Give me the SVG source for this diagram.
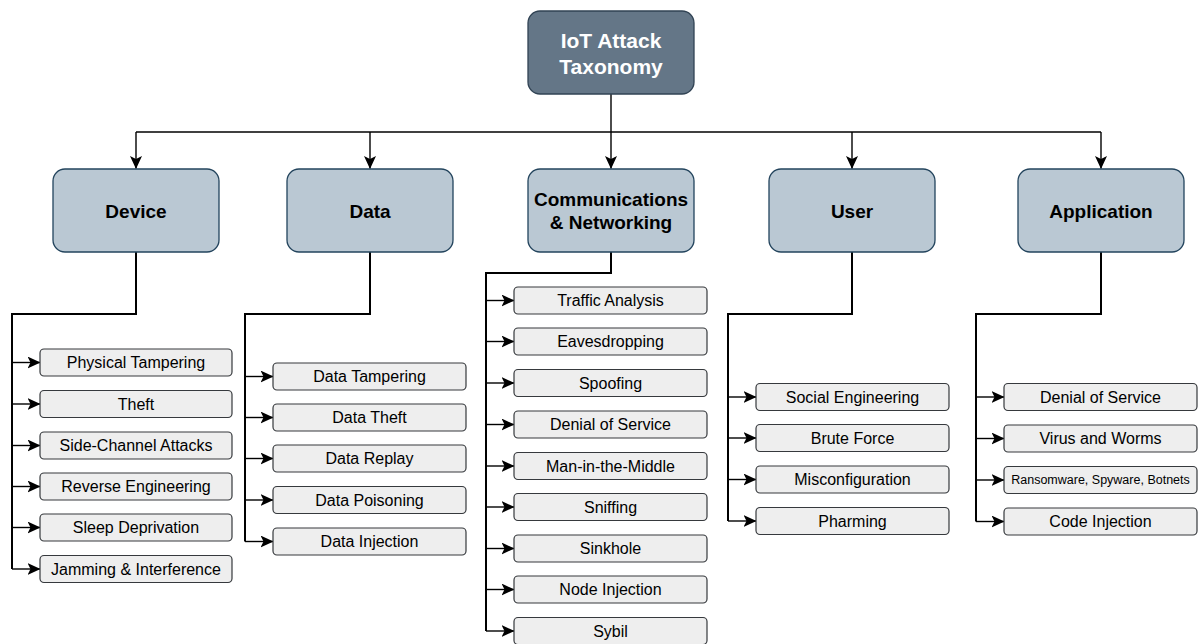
<svg xmlns="http://www.w3.org/2000/svg" width="1199" height="644" viewBox="0 0 1199 644">
<defs>
<marker id="arr" markerUnits="userSpaceOnUse" viewBox="0 0 13 12" refX="12.5" refY="6" markerWidth="13" markerHeight="12" orient="auto">
<path d="M0,0 L13,6 L0,12 L3,6 z" fill="#000"/>
</marker>
<style>
text{font-family:"Liberation Sans",Arial,Helvetica,sans-serif;text-anchor:middle;dominant-baseline:central}
.root rect{fill:#647687;stroke:#314354;stroke-width:1.3}
.root text{fill:#fff;font-weight:bold;font-size:21px}
.cat rect{fill:#bac8d3;stroke:#23445d;stroke-width:1.3}
.cat text{fill:#000;font-weight:bold;font-size:19px}
.leaf rect{fill:#eeeeee;stroke:#36393d;stroke-width:1.2}
.leaf text{fill:#000;font-size:16px}
.top{fill:none;stroke:#000;stroke-width:1.4}
.trunk{fill:none;stroke:#000;stroke-width:2}
.br{fill:none;stroke:#000;stroke-width:1.4}
</style>
</defs>
<rect width="1199" height="644" fill="#fff"/>
<g id="connectors">
<path class="top" d="M611,94 V168.5" marker-end="url(#arr)"/>
<path class="top" d="M136,132 H1101"/>
<path class="top" d="M136,132 V168.5" marker-end="url(#arr)"/>
<path class="top" d="M370,132 V168.5" marker-end="url(#arr)"/>
<path class="top" d="M852,132 V168.5" marker-end="url(#arr)"/>
<path class="top" d="M1101,132 V168.5" marker-end="url(#arr)"/>
<path class="trunk" d="M136,252 V314 H12 V569"/>
<path class="br" d="M12,362.5 H40" marker-end="url(#arr)"/>
<path class="br" d="M12,404 H40" marker-end="url(#arr)"/>
<path class="br" d="M12,445.5 H40" marker-end="url(#arr)"/>
<path class="br" d="M12,486.5 H40" marker-end="url(#arr)"/>
<path class="br" d="M12,527.5 H40" marker-end="url(#arr)"/>
<path class="br" d="M12,569 H40" marker-end="url(#arr)"/>
<path class="trunk" d="M370,252 V314 H245 V541.5"/>
<path class="br" d="M245,376.5 H273" marker-end="url(#arr)"/>
<path class="br" d="M245,417.5 H273" marker-end="url(#arr)"/>
<path class="br" d="M245,458.5 H273" marker-end="url(#arr)"/>
<path class="br" d="M245,500 H273" marker-end="url(#arr)"/>
<path class="br" d="M245,541.5 H273" marker-end="url(#arr)"/>
<path class="trunk" d="M611,252 V273 H486 V631"/>
<path class="br" d="M486,300.5 H514" marker-end="url(#arr)"/>
<path class="br" d="M486,341.5 H514" marker-end="url(#arr)"/>
<path class="br" d="M486,383 H514" marker-end="url(#arr)"/>
<path class="br" d="M486,424.5 H514" marker-end="url(#arr)"/>
<path class="br" d="M486,466 H514" marker-end="url(#arr)"/>
<path class="br" d="M486,507 H514" marker-end="url(#arr)"/>
<path class="br" d="M486,548.5 H514" marker-end="url(#arr)"/>
<path class="br" d="M486,589.5 H514" marker-end="url(#arr)"/>
<path class="br" d="M486,631 H514" marker-end="url(#arr)"/>
<path class="trunk" d="M852,252 V314 H728 V521"/>
<path class="br" d="M728,397 H756" marker-end="url(#arr)"/>
<path class="br" d="M728,438 H756" marker-end="url(#arr)"/>
<path class="br" d="M728,479.5 H756" marker-end="url(#arr)"/>
<path class="br" d="M728,521 H756" marker-end="url(#arr)"/>
<path class="trunk" d="M1101,252 V314 H976 V521.5"/>
<path class="br" d="M976,397 H1004" marker-end="url(#arr)"/>
<path class="br" d="M976,438.5 H1004" marker-end="url(#arr)"/>
<path class="br" d="M976,480 H1004" marker-end="url(#arr)"/>
<path class="br" d="M976,521.5 H1004" marker-end="url(#arr)"/>
</g>
<g id="root" class="root"><rect x="528" y="11" width="166" height="83" rx="12"/><text x="611" y="40">IoT Attack</text><text x="611" y="66">Taxonomy</text></g>
<g id="device" class="cat"><rect x="53" y="169" width="166" height="83" rx="12"/><text x="136" y="211">Device</text></g>
<g id="data" class="cat"><rect x="287" y="169" width="166" height="83" rx="12"/><text x="370" y="211">Data</text></g>
<g id="comm" class="cat"><rect x="528" y="169" width="166" height="83" rx="12"/><text x="611" y="199">Communications</text><text x="611" y="222">&amp; Networking</text></g>
<g id="user" class="cat"><rect x="769" y="169" width="166" height="83" rx="12"/><text x="852" y="211">User</text></g>
<g id="application" class="cat"><rect x="1018" y="169" width="166" height="83" rx="12"/><text x="1101" y="211">Application</text></g>

<g id="physical-tampering" class="leaf"><rect x="40" y="349" width="192" height="27" rx="4"/><text x="136" y="362.5">Physical Tampering</text></g>
<g id="theft" class="leaf"><rect x="40" y="390.5" width="192" height="27" rx="4"/><text x="136" y="404">Theft</text></g>
<g id="side-channel" class="leaf"><rect x="40" y="432" width="192" height="27" rx="4"/><text x="136" y="445.5">Side-Channel Attacks</text></g>
<g id="reverse-engineering" class="leaf"><rect x="40" y="473" width="192" height="27" rx="4"/><text x="136" y="486.5">Reverse Engineering</text></g>
<g id="sleep-deprivation" class="leaf"><rect x="40" y="514" width="192" height="27" rx="4"/><text x="136" y="527.5">Sleep Deprivation</text></g>
<g id="jamming" class="leaf"><rect x="40" y="555.5" width="192" height="27" rx="4"/><text x="136" y="569">Jamming &amp; Interference</text></g>

<g id="data-tampering" class="leaf"><rect x="273" y="363" width="193" height="27" rx="4"/><text x="369.5" y="376.5">Data Tampering</text></g>
<g id="data-theft" class="leaf"><rect x="273" y="404" width="193" height="27" rx="4"/><text x="369.5" y="417.5">Data Theft</text></g>
<g id="data-replay" class="leaf"><rect x="273" y="445" width="193" height="27" rx="4"/><text x="369.5" y="458.5">Data Replay</text></g>
<g id="data-poisoning" class="leaf"><rect x="273" y="486.5" width="193" height="27" rx="4"/><text x="369.5" y="500">Data Poisoning</text></g>
<g id="data-injection" class="leaf"><rect x="273" y="528" width="193" height="27" rx="4"/><text x="369.5" y="541.5">Data Injection</text></g>

<g id="traffic-analysis" class="leaf"><rect x="514" y="287" width="193" height="27" rx="4"/><text x="610.5" y="300.5">Traffic Analysis</text></g>
<g id="eavesdropping" class="leaf"><rect x="514" y="328" width="193" height="27" rx="4"/><text x="610.5" y="341.5">Eavesdropping</text></g>
<g id="spoofing" class="leaf"><rect x="514" y="369.5" width="193" height="27" rx="4"/><text x="610.5" y="383">Spoofing</text></g>
<g id="denial-of-service-comm" class="leaf"><rect x="514" y="411" width="193" height="27" rx="4"/><text x="610.5" y="424.5">Denial of Service</text></g>
<g id="mitm" class="leaf"><rect x="514" y="452.5" width="193" height="27" rx="4"/><text x="610.5" y="466">Man-in-the-Middle</text></g>
<g id="sniffing" class="leaf"><rect x="514" y="493.5" width="193" height="27" rx="4"/><text x="610.5" y="507">Sniffing</text></g>
<g id="sinkhole" class="leaf"><rect x="514" y="535" width="193" height="27" rx="4"/><text x="610.5" y="548.5">Sinkhole</text></g>
<g id="node-injection" class="leaf"><rect x="514" y="576" width="193" height="27" rx="4"/><text x="610.5" y="589.5">Node Injection</text></g>
<g id="sybil" class="leaf"><rect x="514" y="617.5" width="193" height="27" rx="4"/><text x="610.5" y="631">Sybil</text></g>

<g id="social-engineering" class="leaf"><rect x="756" y="383.5" width="193" height="27" rx="4"/><text x="852.5" y="397">Social Engineering</text></g>
<g id="brute-force" class="leaf"><rect x="756" y="424.5" width="193" height="27" rx="4"/><text x="852.5" y="438">Brute Force</text></g>
<g id="misconfiguration" class="leaf"><rect x="756" y="466" width="193" height="27" rx="4"/><text x="852.5" y="479.5">Misconfiguration</text></g>
<g id="pharming" class="leaf"><rect x="756" y="507.5" width="193" height="27" rx="4"/><text x="852.5" y="521">Pharming</text></g>

<g id="denial-of-service-app" class="leaf"><rect x="1004" y="383.5" width="193" height="27" rx="4"/><text x="1100.5" y="397">Denial of Service</text></g>
<g id="virus-worms" class="leaf"><rect x="1004" y="425" width="193" height="27" rx="4"/><text x="1100.5" y="438.5">Virus and Worms</text></g>
<g id="ransomware" class="leaf"><rect x="1004" y="466.5" width="193" height="27" rx="4"/><text x="1100.5" y="480" style="font-size:12.5px">Ransomware, Spyware, Botnets</text></g>
<g id="code-injection" class="leaf"><rect x="1004" y="508" width="193" height="27" rx="4"/><text x="1100.5" y="521.5">Code Injection</text></g>
</svg>
